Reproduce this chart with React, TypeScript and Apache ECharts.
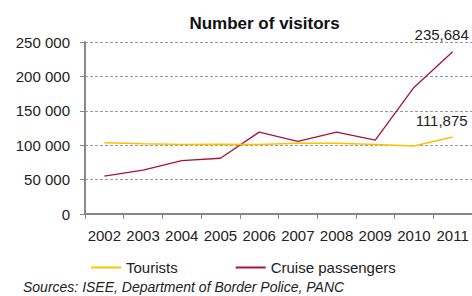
import React, { useEffect, useRef } from "react";
import * as echarts from "echarts";

const years = ["2002", "2003", "2004", "2005", "2006", "2007", "2008", "2009", "2010", "2011"];
const tourists = [103600, 102000, 101000, 101500, 101000, 103000, 103000, 101000, 98800, 111875];
const cruise = [55200, 63900, 77500, 81000, 119000, 105600, 119000, 107500, 184000, 235684];
const yTicks = [0, 50000, 100000, 150000, 200000, 250000];

const FONT = "'Liberation Sans', Arial, sans-serif";
const YELLOW = "#FFC000";
const RED = "#A8123E";

function fmtSpace(v: number) {
  if (v === 0) return "0";
  return String(v).replace(/\B(?=(\d{3})+(?!\d))/g, " ");
}
function fmtComma(v: number) {
  return String(v).replace(/\B(?=(\d{3})+(?!\d))/g, ",");
}

export default function App() {
  const ref = useRef<HTMLDivElement>(null);
  useEffect(() => {
    const chart = echarts.init(ref.current!, undefined, { renderer: "svg" });
    const endLabel = (arr: number[]) => ({
      show: true,
      position: "top",
      offset: [-11, -4],
      formatter: (p: any) => (p.dataIndex === arr.length - 1 ? fmtComma(arr[p.dataIndex]) : ""),
      fontFamily: FONT,
      fontSize: 15,
      color: "#222",
    });
    chart.setOption({
      animation: false,
      backgroundColor: "#fff",
      title: [
        {
          text: "Number of visitors",
          left: 259.5,
          textAlign: "center",
          top: 10,
          textStyle: { fontFamily: FONT, fontSize: 17, fontWeight: "bold", color: "#111" },
        },
        {
          text: "Sources: ISEE, Department of Border Police, PANC",
          left: 18,
          top: 274,
          textStyle: { fontFamily: FONT, fontSize: 14, fontStyle: "italic", fontWeight: "normal", color: "#222", lineHeight: 16 },
        },
      ],
      legend: {
        left: 86,
        top: 255,
        itemWidth: 30,
        itemHeight: 2,
        itemGap: 58,
        icon: "rect",
        textStyle: { fontFamily: FONT, fontSize: 15, color: "#222" },
        data: [
          { name: "Tourists", itemStyle: { color: YELLOW, opacity: 1 } },
          { name: "Cruise passengers", itemStyle: { color: RED, opacity: 1 } },
        ],
      },
      grid: { left: 85, right: -2, top: 42, bottom: 82 },
      xAxis: {
        type: "category",
        data: years,
        boundaryGap: true,
        axisLine: { lineStyle: { color: "#888", width: 2 } },
        axisTick: { show: true, length: 5, interval: 0, lineStyle: { color: "#888" } },
        axisLabel: { fontFamily: FONT, fontSize: 15, color: "#222", margin: 14, interval: 0 },
      },
      yAxis: {
        type: "value",
        min: 0,
        max: 250000,
        interval: 50000,
        axisLine: { show: true, lineStyle: { color: "#888", width: 2 } },
        axisTick: { show: true, length: 5, lineStyle: { color: "#888" } },
        axisLabel: {
          fontFamily: FONT,
          fontSize: 15,
          color: "#222",
          margin: 15,
          formatter: (v: number) => (yTicks.includes(v) ? fmtSpace(v) : ""),
        },
        splitLine: { show: true, lineStyle: { color: "#999", type: [3, 2], width: 1 } },
      },
      series: [
        {
          name: "Tourists",
          type: "line",
          data: tourists,
          symbol: "circle",
          symbolSize: 1,
          showSymbol: true,
          itemStyle: { color: "rgba(0,0,0,0)", borderWidth: 0 },
          lineStyle: { width: 1.5, color: YELLOW },
          label: endLabel(tourists),
          clip: false,
          z: 3,
        },
        {
          name: "Cruise passengers",
          type: "line",
          data: cruise,
          symbol: "circle",
          symbolSize: 1,
          showSymbol: true,
          itemStyle: { color: "rgba(0,0,0,0)", borderWidth: 0 },
          lineStyle: { width: 1.3, color: RED },
          label: endLabel(cruise),
          clip: false,
          z: 2,
        },
      ],
    });
    return () => chart.dispose();
  }, []);
  return <div ref={ref} style={{ width: 472, height: 296, position: "fixed", left: 0, top: 0 }} />;
}
